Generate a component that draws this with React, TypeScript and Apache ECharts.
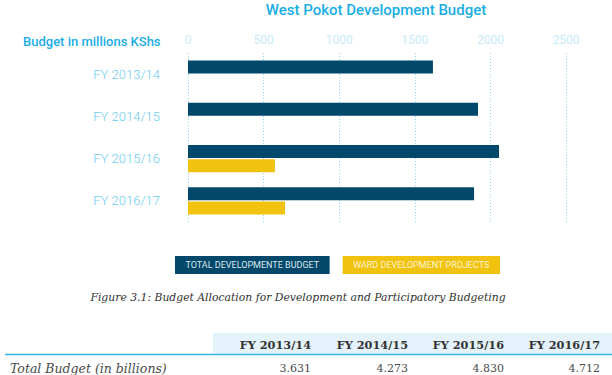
import React, { useEffect, useRef } from "react";
import * as echarts from "echarts";

const categories = ["FY 2013/14", "FY 2014/15", "FY 2015/16", "FY 2016/17"];
const totalDev = [1620, 1918, 2057, 1892];
const wardDev = [null, null, 575, 642];
const seriesNames = ["TOTAL DEVELOPMENTE BUDGET", "WARD DEVELOPMENT PROJECTS"];
const tableYears = ["FY 2013/14", "FY 2014/15", "FY 2015/16", "FY 2016/17"];
const tableTotals = ["3.631", "4.273", "4.830", "4.712"];
const tableRowLabel = "Total Budget (in billions)";
const caption = "Figure 3.1: Budget Allocation for Development and Participatory Budgeting";

const DARK = "#02486a";
const YELLOW = "#f1c30f";
const BLUE = "#1aaee5";
const SANS = "Roboto, 'Noto Sans', sans-serif";
const SERIF = "'DejaVu Serif', serif";

export default function App() {
  const ref = useRef<HTMLDivElement>(null);
  useEffect(() => {
    const chart = echarts.init(ref.current!, undefined, { renderer: "svg" });
    const colRight = [311, 408, 504, 600];
    const tableGraphics: any[] = [
      { type: "rect", shape: { x: 213, y: 333, width: 399, height: 21 }, style: { fill: "#e4f3fb" } },
      { type: "line", shape: { x1: 5, y1: 354.5, x2: 612, y2: 354.5 }, style: { stroke: "#3ab4e5", lineWidth: 1.5 } },
      { type: "text", x: 10, y: 368, style: { text: tableRowLabel, font: `italic 12.5px ${SERIF}`, fill: "#4a4a4a", verticalAlign: "middle" } },
    ];
    tableYears.forEach((y, i) => {
      tableGraphics.push({ type: "text", x: colRight[i], y: 345, style: { text: y, font: `bold 11.3px ${SERIF}`, fill: "#333", align: "right", verticalAlign: "middle" } });
      tableGraphics.push({ type: "text", x: colRight[i], y: 368, style: { text: tableTotals[i], font: `11px ${SERIF}`, fill: "#4a4a4a", align: "right", verticalAlign: "middle" } });
    });
    chart.setOption({
      animation: false,
      title: {
        text: "West Pokot Development Budget",
        left: 371,
        textAlign: "center",
        top: -3,
        textStyle: { color: BLUE, fontSize: 15, fontWeight: 500, fontFamily: SANS },
      },
      legend: {
        top: 251,
        left: 165,
        itemWidth: 0,
        itemHeight: 0,
        itemGap: 8,
        selectedMode: false,
        data: [
          { name: seriesNames[0], textStyle: { backgroundColor: DARK, color: "#dfe7ec", padding: [5, 10.5, 4, 10.5], fontSize: 9, fontFamily: SANS } },
          { name: seriesNames[1], textStyle: { backgroundColor: YELLOW, color: "#fdf3d0", padding: [5, 10.5, 4, 10.5], fontSize: 9, fontFamily: SANS } },
        ],
      },
      grid: { left: 188, right: 46, top: 53, bottom: 153 },
      xAxis: {
        type: "value",
        position: "top",
        min: 0,
        max: 2500,
        interval: 500,
        axisLine: { show: false },
        axisTick: { show: false },
        axisLabel: { color: "#c6eaf9", fontSize: 12, fontFamily: SANS, margin: 7, formatter: (v: number) => String(v) },
        splitLine: { show: true, lineStyle: { color: "#8fd6f3", type: [1, 2], width: 1 } },
      },
      yAxis: {
        type: "category",
        data: categories,
        inverse: true,
        axisLine: { show: false },
        axisTick: { show: false },
        axisLabel: { color: "#6ccbf0", fontSize: 13, fontFamily: SANS, fontWeight: 300, margin: 28 },
      },
      series: [
        { name: seriesNames[0], type: "bar", data: totalDev, barWidth: 13, barGap: "8%", itemStyle: { color: DARK } },
        { name: seriesNames[1], type: "bar", data: wardDev, barWidth: 13, barGap: "8%", itemStyle: { color: YELLOW } },
      ],
      graphic: [
        { type: "text", x: 23, y: 41, style: { text: "Budget in millions KShs", font: `500 13px ${SANS}`, fill: BLUE, verticalAlign: "middle" } },
        { type: "text", x: 298, y: 297, style: { text: caption, font: `italic 10.8px ${SERIF}`, fill: "#333", align: "center", verticalAlign: "middle" } },
        ...tableGraphics,
      ],
    });
    return () => chart.dispose();
  }, []);
  return <div ref={ref} style={{ position: "fixed", left: 0, top: 0, width: 612, height: 375, background: "#fff" }} />;
}
